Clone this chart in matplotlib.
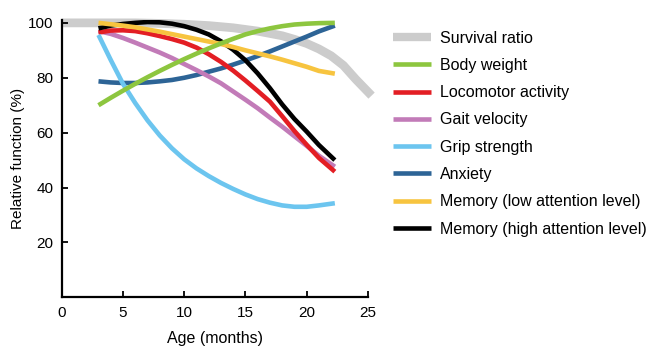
import matplotlib
matplotlib.use("Agg")
import matplotlib.pyplot as plt

plt.rcParams['font.family'] = ['Liberation Sans', 'DejaVu Sans']

# Survival curve spans the full age range
survival_age = [0, 2, 4, 6, 8, 10, 12, 14, 16, 18, 19, 20, 21, 22, 23, 24, 25.3]
survival = [100, 100, 100, 100, 99.8, 99.5, 99, 98.2, 97, 95.3, 94, 92.5, 90.5, 88, 84.5, 79.5, 73.5]

# Functional measures, 3 to ~22 months
age = [3, 4, 5, 6, 7, 8, 9, 10, 11, 12, 13, 14, 15, 16, 17, 18, 19, 20, 21, 22.3]
body_weight = [70, 72.7, 75.3, 77.8, 80.2, 82.5, 84.7, 86.8, 88.8, 90.7, 92.5, 94.2, 95.8, 97, 98, 98.8, 99.4, 99.7, 99.9, 100]
locomotor = [96.5, 97.2, 97.3, 97, 96.2, 95.2, 94.1, 92.8, 91, 88.6, 85.8, 82.6, 79, 75.2, 71.3, 66, 60.6, 55.6, 50.8, 45.8]
gait = [97, 96, 94.5, 92.8, 91, 89.2, 87.2, 85, 82.8, 80.5, 78, 75, 72, 68.9, 65.5, 62.2, 58.7, 55.2, 51.6, 47.6]
grip = [95.6, 86.5, 77.8, 70.8, 64.5, 59, 54.3, 50.3, 47, 44.2, 41.7, 39.5, 37.5, 35.8, 34.5, 33.5, 33, 33, 33.5, 34.3]
anxiety = [78.7, 78.3, 78.1, 78.1, 78.3, 78.7, 79.2, 80, 81, 82.2, 83.4, 84.8, 86.3, 87.9, 89.6, 91.4, 93.2, 95, 96.9, 99]
memory_low = [100, 99.5, 99, 98.4, 97.6, 96.8, 95.9, 95, 94.1, 93.2, 92.3, 91.2, 90, 88.9, 87.8, 86.6, 85.3, 84, 82.5, 81.5]
memory_high = [98, 99, 99.6, 100, 100.3, 100.2, 99.7, 98.8, 97.5, 95.8, 93.3, 90.2, 86.4, 81.6, 76.2, 70.3, 65, 60.4, 55.5, 50]

fig = plt.figure(figsize=(6.5, 3.47), dpi=100)
ax = fig.add_axes([0.095, 0.143, 0.471, 0.799])

lw = 3.3
ax.plot(survival_age, survival, color='#cccccc', lw=6.3, label='Survival ratio',
        solid_capstyle='butt', clip_on=False, zorder=1)
ax.plot(age, body_weight, color='#8dc63f', lw=lw, label='Body weight', solid_capstyle='butt', zorder=9)
ax.plot(age, locomotor, color='#e31e24', lw=lw, label='Locomotor activity', solid_capstyle='butt', zorder=5)
ax.plot(age, gait, color='#c27bb8', lw=lw, label='Gait velocity', solid_capstyle='butt', zorder=4)
ax.plot(age, grip, color='#6cc5ef', lw=lw, label='Grip strength', solid_capstyle='butt', zorder=8)
ax.plot(age, anxiety, color='#2d6496', lw=lw, label='Anxiety', solid_capstyle='butt', zorder=3)
ax.plot(age, memory_low, color='#f7c43f', lw=lw, label='Memory (low attention level)', solid_capstyle='butt', zorder=7)
ax.plot(age, memory_high, color='#000000', lw=lw, label='Memory (high attention level)', solid_capstyle='butt', zorder=6)

ax.set_xlim(0, 25)
ax.set_ylim(0, 101)
ax.set_xticks([0, 5, 10, 15, 20, 25])
ax.set_yticks([20, 40, 60, 80, 100])
ax.tick_params(direction='in', length=4, width=1.3, labelsize=11, pad=6)
for s in ['top', 'right']:
    ax.spines[s].set_visible(False)
for s in ['left', 'bottom']:
    ax.spines[s].set_linewidth(1.6)
ax.set_xlabel('Age (months)', fontsize=11.5, labelpad=8)
ax.set_ylabel('Relative function (%)', fontsize=11, labelpad=2)

handles, labels = ax.get_legend_handles_labels()
leg = fig.legend(handles, labels, loc='upper left', bbox_to_anchor=(0.605, 0.912),
                 frameon=False, fontsize=11.5, borderpad=0, borderaxespad=0,
                 handlelength=2.35, handletextpad=0.55, labelspacing=0.77)
for h in leg.get_lines():
    h.set_linewidth(3.3)
leg.get_lines()[0].set_linewidth(6)

fig.savefig('out.png', dpi=100)
